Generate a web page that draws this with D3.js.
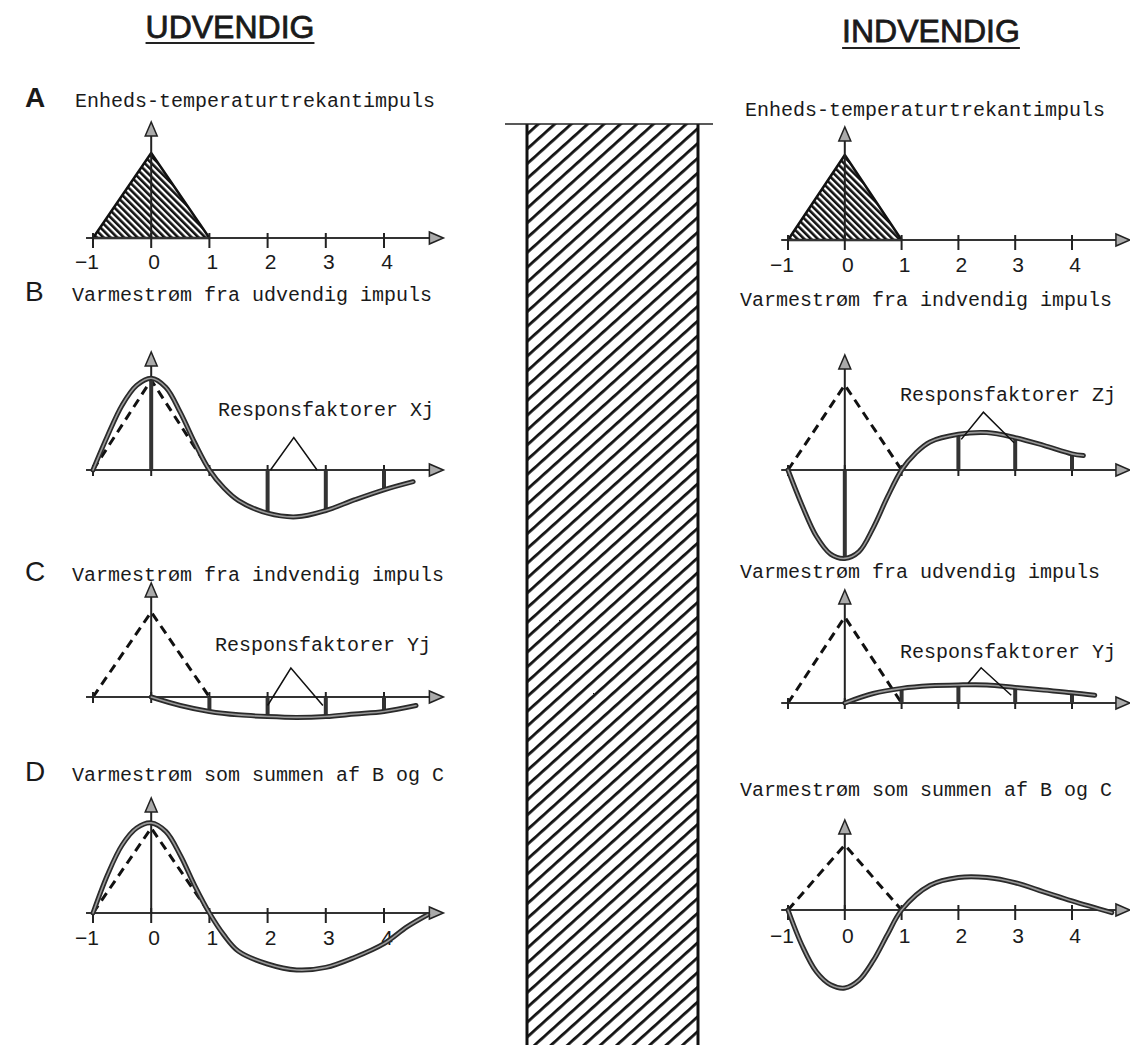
<!DOCTYPE html>
<html>
<head>
<meta charset="utf-8">
<script src="https://cdn.jsdelivr.net/npm/d3@7"></script>
<style>
  body { margin: 0; background: #fff; }
  .mono { font-family: "Liberation Mono", "Courier New", monospace; font-size: 20px; fill: #1a1a1a; }
  .sans { font-family: "Liberation Sans", Helvetica, Arial, sans-serif; fill: #1a1a1a; }
</style>
</head>
<body>
<script>
// tick values and labels on the time axis
let ticks = [-1, 0, 1, 2, 3, 4]
let tickLabels = ["\u22121", "0", "1", "2", "3", "4"]

// unit triangle temperature impulse
let impulse = [[-1, 0], [0, 1], [1, 0]]

// heat flow curves, [time, relative flow]
let udvB = [[-1, 0], [-0.75, 0.38], [-0.5, 0.72], [-0.25, 0.94], [0, 1.02], [0.25, 0.92], [0.5, 0.64], [0.75, 0.3], [1, 0],
            [1.25, -0.2], [1.5, -0.34], [2, -0.48], [2.5, -0.52], [3, -0.45], [3.5, -0.33], [4, -0.22], [4.5, -0.13]]
let indC = [[0, 0], [0.5, -0.1], [1, -0.17], [1.5, -0.21], [2, -0.23], [2.5, -0.24], [3, -0.23], [3.5, -0.2], [4, -0.17], [4.55, -0.1]]
let sumD = [[-1, 0], [-0.75, 0.45], [-0.5, 0.8], [-0.25, 1.0], [0, 1.06], [0.25, 0.96], [0.5, 0.68], [0.75, 0.32], [1, 0],
            [1.25, -0.26], [1.5, -0.45], [2, -0.6], [2.5, -0.67], [3, -0.64], [3.5, -0.52], [4, -0.36], [4.4, -0.16], [4.75, -0.02]]
let indB = [[-1, 0], [-0.75, -0.42], [-0.5, -0.78], [-0.25, -0.99], [0, -1.04], [0.25, -0.96], [0.5, -0.68], [0.75, -0.32], [1, 0],
            [1.25, 0.2], [1.5, 0.33], [2, 0.42], [2.5, 0.44], [3, 0.38], [3.5, 0.29], [4, 0.19], [4.2, 0.17]]
let udvC = [[0, 0], [0.5, 0.11], [1, 0.17], [1.5, 0.2], [2, 0.21], [2.5, 0.21], [3, 0.18], [3.5, 0.15], [4, 0.12], [4.4, 0.09]]
let sumDR = [[-1, 0], [-0.75, -0.55], [-0.5, -0.95], [-0.25, -1.15], [0, -1.2], [0.25, -1.08], [0.5, -0.78], [0.75, -0.38], [1, 0],
             [1.5, 0.38], [2, 0.5], [2.5, 0.5], [3, 0.42], [3.5, 0.28], [4, 0.14], [4.7, -0.04]]

// response factor bars (times)
let barsX0 = [0, 2, 3, 4]
let barsX1 = [1, 2, 3, 4]

// callout pointers for "Responsfaktorer"
let calloutXj = [[2.05, 0], [2.45, 0.36], [2.85, 0]]
let calloutYjL = [[2.0, -0.1], [2.4, 0.34], [2.95, -0.1]]
let calloutZj = [[2.05, 0.36], [2.44, 0.68], [2.98, 0.32]]
let calloutYjR = [[2.17, 0.23], [2.4, 0.41], [2.93, 0.09]]

let width = 1130
let height = 1045

let svg = d3.select("body").append("svg")
    .attr("width", width)
    .attr("height", height)

let defs = svg.append("defs")
defs.append("pattern")
    .attr("id", "triHatch")
    .attr("patternUnits", "userSpaceOnUse")
    .attr("width", 4.8).attr("height", 4.8)
    .attr("patternTransform", "rotate(-45)")
    .append("rect").attr("width", 2.6).attr("height", 4.8).attr("fill", "#111")
defs.append("pattern")
    .attr("id", "wallHatch")
    .attr("patternUnits", "userSpaceOnUse")
    .attr("width", 11).attr("height", 11)
    .attr("patternTransform", "rotate(48)")
    .append("rect").attr("width", 2.8).attr("height", 11).attr("fill", "#111")

let xLeft = d3.scaleLinear().domain([-1, 4]).range([93, 384])
let xRight = d3.scaleLinear().domain([-1, 4]).range([788, 1072])

// headings
function heading(label, cx, by, uy) {
    let t = svg.append("text").attr("class", "sans")
        .attr("x", cx).attr("y", by)
        .attr("text-anchor", "middle")
        .style("font-size", "32px")
        .attr("stroke", "#1a1a1a").attr("stroke-width", 0.8)
        .text(label)
    let w = t.node().getComputedTextLength()
    svg.append("line")
        .attr("x1", cx - w / 2).attr("x2", cx + w / 2)
        .attr("y1", uy).attr("y2", uy)
        .attr("stroke", "#222").attr("stroke-width", 2)
}
heading("UDVENDIG", 230, 38, 43)
heading("INDVENDIG", 931, 42, 48)

// wall
svg.append("rect")
    .attr("x", 527).attr("y", 124)
    .attr("width", 171).attr("height", height - 124)
    .attr("fill", "url(#wallHatch)")
svg.append("line").attr("x1", 527).attr("x2", 527).attr("y1", 124).attr("y2", height)
    .attr("stroke", "#111").attr("stroke-width", 3)
svg.append("line").attr("x1", 698).attr("x2", 698).attr("y1", 124).attr("y2", height)
    .attr("stroke", "#111").attr("stroke-width", 3)
svg.append("line").attr("x1", 505).attr("x2", 713).attr("y1", 124).attr("y2", 124)
    .attr("stroke", "#222").attr("stroke-width", 1.5)

let panels = [
    { side: "L", letter: "A", title: "Enheds-temperaturtrekantimpuls", titleX: 75, titleY: 107, axisY: 238, unit: 85, top: 122, hatched: true, labelsY: 269 },
    { side: "L", letter: "B", title: "Varmestrøm fra udvendig impuls", titleX: 72, titleY: 301, axisY: 470, unit: 90, top: 352,
      curve: udvB, bars: barsX0, callout: calloutXj, resp: "Responsfaktorer Xj", respX: 218, respY: 416 },
    { side: "L", letter: "C", title: "Varmestrøm fra indvendig impuls", titleX: 72, titleY: 581, axisY: 697, unit: 85, top: 583,
      curve: indC, bars: barsX1, callout: calloutYjL, resp: "Responsfaktorer Yj", respX: 215, respY: 651 },
    { side: "L", letter: "D", title: "Varmestrøm som summen af B og C", titleX: 72, titleY: 781, axisY: 913, unit: 85, top: 798,
      curve: sumD, labelsY: 945 },
    { side: "R", title: "Enheds-temperaturtrekantimpuls", titleX: 745, titleY: 116, axisY: 240, unit: 85, top: 127, hatched: true, labelsY: 272 },
    { side: "R", title: "Varmestrøm fra indvendig impuls", titleX: 740, titleY: 306, axisY: 470, unit: 85, top: 355,
      curve: indB, bars: barsX0, callout: calloutZj, resp: "Responsfaktorer Zj", respX: 900, respY: 401 },
    { side: "R", title: "Varmestrøm fra udvendig impuls", titleX: 740, titleY: 578, axisY: 703, unit: 86, top: 590,
      curve: udvC, bars: barsX1, callout: calloutYjR, resp: "Responsfaktorer Yj", respX: 900, respY: 658 },
    { side: "R", title: "Varmestrøm som summen af B og C", titleX: 740, titleY: 796, axisY: 910, unit: 65, top: 820,
      curve: sumDR, labelsY: 943 }
]

panels.forEach(drawPanel)

function valueAt(curve, t) {
    let p = curve.find(d => d[0] == t)
    return p ? p[1] : 0
}

function drawPanel(p) {
    let x = p.side == "L" ? xLeft : xRight
    let y = d3.scaleLinear().domain([0, 1]).range([p.axisY, p.axisY - p.unit])
    let g = svg.append("g")
    let line = d3.line().x(d => x(d[0])).y(d => y(d[1]))

    if (p.letter) {
        g.append("text").attr("class", "sans")
            .attr("x", 25).attr("y", p.titleY)
            .style("font-size", "28px")
            .style("font-weight", p.letter == "A" ? "bold" : "normal")
            .text(p.letter)
    }
    g.append("text").attr("class", "mono")
        .attr("x", p.titleX).attr("y", p.titleY)
        .text(p.title)

    // impulse triangle
    if (p.hatched) {
        g.append("path")
            .attr("d", line(impulse) + "Z")
            .attr("fill", "url(#triHatch)")
            .attr("stroke", "#111").attr("stroke-width", 2.5)
            .attr("stroke-linejoin", "round")
    } else {
        g.append("path")
            .attr("d", line(impulse))
            .attr("fill", "none")
            .attr("stroke", "#111").attr("stroke-width", 3)
            .attr("stroke-dasharray", "9,6")
    }

    // x axis with arrow
    let x0 = x(-1.12), x1 = x(5.02)
    g.append("line")
        .attr("x1", x0).attr("x2", x1 - 10)
        .attr("y1", p.axisY).attr("y2", p.axisY)
        .attr("stroke", "#333").attr("stroke-width", 1.8)
    g.append("path")
        .attr("d", `M${x1},${p.axisY} L${x1 - 14},${p.axisY - 6} L${x1 - 14},${p.axisY + 6} Z`)
        .attr("fill", "#aaa").attr("stroke", "#222").attr("stroke-width", 1.5)

    // ticks
    let tickDown = p.labelsY ? 10 : 6
    g.selectAll(".tick").data(ticks).enter()
        .append("line")
        .attr("x1", d => x(d)).attr("x2", d => x(d))
        .attr("y1", p.axisY - 5).attr("y2", p.axisY + tickDown)
        .attr("stroke", "#222").attr("stroke-width", 2)

    if (p.labelsY) {
        g.selectAll(".lbl").data(ticks).enter()
            .append("text").attr("class", "sans")
            .attr("x", (d, i) => x(d) + (i == 0 ? -6 : 3))
            .attr("y", p.labelsY)
            .attr("text-anchor", "middle")
            .style("font-size", "21px")
            .text((d, i) => tickLabels[i])
    }

    // y axis with arrow
    g.append("line")
        .attr("x1", x(0)).attr("x2", x(0))
        .attr("y1", p.axisY).attr("y2", p.top + 10)
        .attr("stroke", "#222").attr("stroke-width", 2)
    g.append("path")
        .attr("d", `M${x(0)},${p.top} L${x(0) - 6},${p.top + 14} L${x(0) + 6},${p.top + 14} Z`)
        .attr("fill", "#aaa").attr("stroke", "#222").attr("stroke-width", 1.5)

    // response factor bars
    if (p.bars) {
        g.selectAll(".bar").data(p.bars).enter()
            .append("line")
            .attr("x1", d => x(d)).attr("x2", d => x(d))
            .attr("y1", y(0)).attr("y2", d => y(valueAt(p.curve, d)))
            .attr("stroke", "#333").attr("stroke-width", 4)
    }

    // heat flow curve
    if (p.curve) {
        let cl = d3.line().curve(d3.curveCatmullRom.alpha(0.5)).x(d => x(d[0])).y(d => y(d[1]))
        g.append("path").attr("d", cl(p.curve))
            .attr("fill", "none").attr("stroke", "#2a2a2a").attr("stroke-width", 5)
            .attr("stroke-linecap", "round")
        g.append("path").attr("d", cl(p.curve))
            .attr("fill", "none").attr("stroke", "#999").attr("stroke-width", 1.6)
            .attr("stroke-linecap", "round")
    }

    if (p.callout) {
        g.append("path").attr("d", line(p.callout))
            .attr("fill", "none").attr("stroke", "#111").attr("stroke-width", 1.5)
        g.append("text").attr("class", "mono")
            .attr("x", p.respX).attr("y", p.respY)
            .text(p.resp)
    }
}
</script>
</body>
</html>
